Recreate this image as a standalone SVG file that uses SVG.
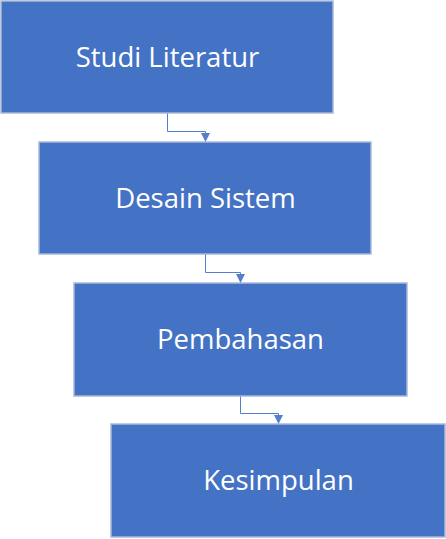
<svg xmlns="http://www.w3.org/2000/svg" width="446" height="539" viewBox="0 0 446 539">
<defs>
<style>
.box{fill:#4472C4;stroke:#A9B9D9;stroke-width:1.5}
.lbl{fill:#FFFFFF;font-family:"Open Sans","Noto Sans",sans-serif;font-size:27.5px;text-anchor:middle}
.con{fill:none;stroke:#4472C4;stroke-width:1;opacity:0.9}
</style>
<marker id="arr" viewBox="0 0 10 10" refX="10" refY="5" markerWidth="10" markerHeight="9" markerUnits="userSpaceOnUse" orient="auto">
<path d="M0,0 L10,5 L0,10 Z" fill="#4472C4"/>
</marker>
</defs>
<rect width="446" height="539" fill="#FFFFFF"/>
<g id="connectors">
<path class="con" d="M167.5,113 V131.5 H205.5 V142" marker-end="url(#arr)"/>
<path class="con" d="M205.5,254 V272.5 H240.5 V283" marker-end="url(#arr)"/>
<path class="con" d="M240.5,396 V413.5 H278.5 V424" marker-end="url(#arr)"/>
</g>
<g id="node1">
<rect class="box" x="1" y="1" width="332" height="112"/>
<text class="lbl" x="167.5" y="67">Studi Literatur</text>
</g>
<g id="node2">
<rect class="box" x="39" y="142" width="332" height="112"/>
<text class="lbl" x="205.5" y="208">Desain Sistem</text>
</g>
<g id="node3">
<rect class="box" x="74" y="283" width="333" height="113"/>
<text class="lbl" x="240.5" y="349">Pembahasan</text>
</g>
<g id="node4">
<rect class="box" x="111" y="424" width="334" height="113"/>
<text class="lbl" x="278.5" y="490">Kesimpulan</text>
</g>
</svg>
